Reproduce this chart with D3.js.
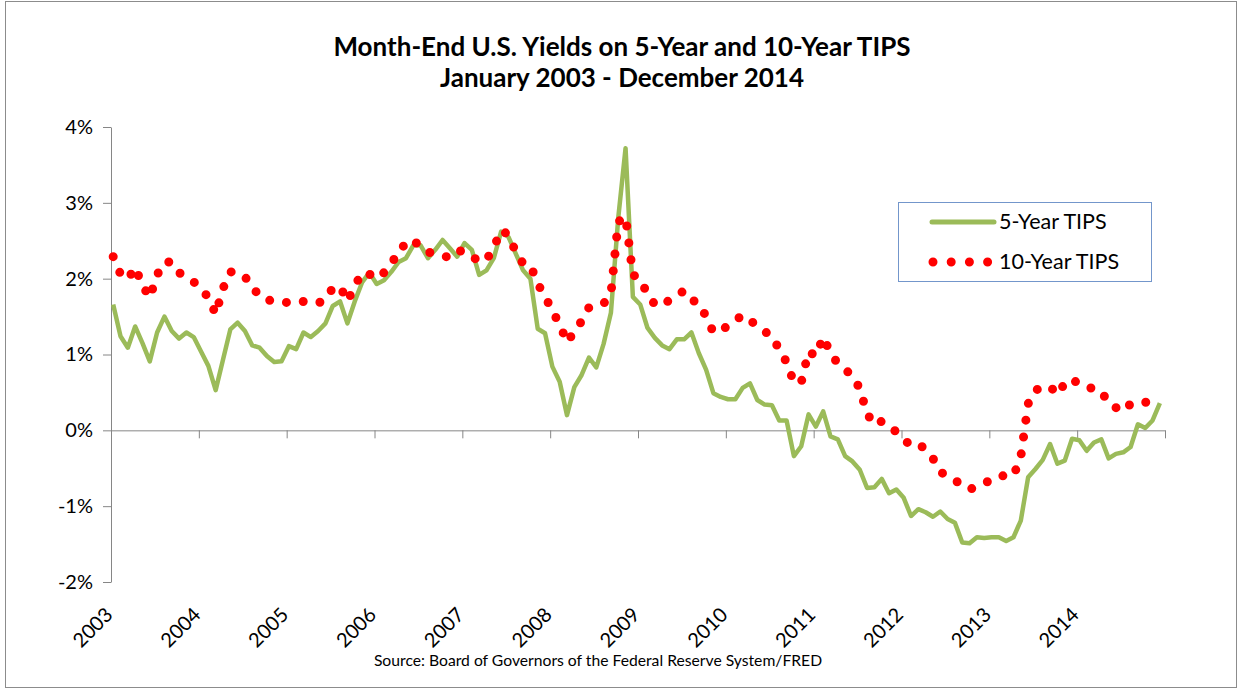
<!DOCTYPE html>
<html>
<head>
<meta charset="utf-8">
<script src="https://cdn.jsdelivr.net/npm/d3@7"></script>
<style>
  body { margin: 0; background: #fff; }
  svg { display: block; font-family: Lato, "Open Sans", sans-serif; }
</style>
</head>
<body>
<div id="chart"></div>
<script>
// month-end yields, Jan 2003 .. Dec 2014 (%)
const years = [2003, 2004, 2005, 2006, 2007, 2008, 2009, 2010, 2011, 2012, 2013, 2014];
const yTicks = [-2, -1, 0, 1, 2, 3, 4];

const fiveYear = [
  1.66, 1.24, 1.09, 1.37, 1.15, 0.91, 1.29, 1.50, 1.31, 1.21, 1.29, 1.23,
  1.04, 0.85, 0.53, 0.93, 1.33, 1.42, 1.31, 1.12, 1.09, 0.98, 0.90, 0.91,
  1.11, 1.07, 1.29, 1.23, 1.31, 1.41, 1.64, 1.70, 1.41, 1.70, 1.95, 2.08,
  1.93, 1.98, 2.09, 2.22, 2.27, 2.44, 2.44, 2.27, 2.38, 2.51, 2.40, 2.29,
  2.47, 2.38, 2.05, 2.11, 2.27, 2.62, 2.55, 2.33, 2.11, 2.00, 1.34, 1.28,
  0.84, 0.64, 0.20, 0.57, 0.73, 0.96, 0.83, 1.14, 1.55, 2.80, 3.72, 1.76,
  1.66, 1.35, 1.22, 1.12, 1.07, 1.20, 1.20, 1.29, 1.02, 0.80, 0.49, 0.44,
  0.41, 0.41, 0.56, 0.62, 0.40, 0.34, 0.33, 0.13, 0.13, -0.34, -0.21, 0.21,
  0.05, 0.25, -0.08, -0.12, -0.34, -0.41, -0.52, -0.76, -0.75, -0.64, -0.83, -0.78,
  -0.89, -1.13, -1.04, -1.08, -1.14, -1.07, -1.17, -1.22, -1.48, -1.49, -1.41, -1.42,
  -1.41, -1.41, -1.46, -1.41, -1.19, -0.62, -0.51, -0.39, -0.18, -0.44, -0.40, -0.11,
  -0.13, -0.27, -0.16, -0.12, -0.37, -0.31, -0.29, -0.22, 0.08, 0.03, 0.13, 0.36
];

const tenYear = [
  2.29, 2.06, 1.99, 2.15, 1.91, 1.75, 2.05, 2.22, 2.22, 2.08, 2.02, 1.96,
  1.85, 1.76, 1.53, 1.87, 2.09, 2.08, 2.03, 1.86, 1.80, 1.71, 1.72, 1.70,
  1.68, 1.68, 1.70, 1.70, 1.68, 1.72, 1.88, 1.90, 1.70, 1.90, 2.08, 2.06,
  2.00, 2.08, 2.18, 2.39, 2.45, 2.52, 2.40, 2.35, 2.33, 2.30, 2.28, 2.37,
  2.36, 2.30, 2.22, 2.25, 2.41, 2.64, 2.58, 2.35, 2.20, 2.18, 1.93, 1.77,
  1.57, 1.40, 1.16, 1.30, 1.44, 1.62, 1.65, 1.67, 1.80, 2.75, 2.82, 2.05,
  2.00, 1.79, 1.66, 1.64, 1.72, 1.78, 1.84, 1.72, 1.68, 1.50, 1.29, 1.33,
  1.37, 1.45, 1.52, 1.45, 1.38, 1.30, 1.25, 1.06, 0.90, 0.63, 0.63, 1.04,
  0.98, 1.23, 1.02, 0.88, 0.80, 0.72, 0.55, 0.22, 0.07, 0.12, 0.05, -0.02,
  -0.12, -0.20, -0.18, -0.25, -0.37, -0.55, -0.60, -0.66, -0.72, -0.78, -0.74, -0.70,
  -0.65, -0.60, -0.60, -0.60, -0.35, 0.35, 0.53, 0.57, 0.58, 0.47, 0.62, 0.68,
  0.60, 0.57, 0.55, 0.52, 0.35, 0.30, 0.25, 0.35, 0.37, 0.37, 0.38, 0.42
];

const colors = { five: "#9BBB59", ten: "#FF0000", axis: "#868686" };

const width = 1243, height = 690;
const svg = d3.select("#chart").append("svg")
  .attr("width", width).attr("height", height);

// outer frame
svg.append("rect")
  .attr("x", 5.5).attr("y", 1.5)
  .attr("width", 1231).attr("height", 686)
  .attr("fill", "none").attr("stroke", "#8c8c8c");

// scales: one unit per month, axis spans Jan 2003 .. Jan 2015
const x = d3.scaleLinear().domain([0, 144]).range([111, 1165]);
const y = d3.scaleLinear().domain([-2, 4]).range([582, 127]);

// title
svg.append("text")
  .attr("x", 622).attr("y", 56)
  .attr("text-anchor", "middle")
  .attr("font-size", 26).attr("font-weight", "bold")
  .text("Month-End U.S. Yields on 5-Year and 10-Year TIPS");
svg.append("text")
  .attr("x", 622).attr("y", 87)
  .attr("text-anchor", "middle")
  .attr("font-size", 26).attr("font-weight", "bold")
  .text("January 2003 - December 2014");

// y axis
const yAxis = svg.append("g")
  .attr("transform", `translate(${x(0)},0)`)
  .call(d3.axisLeft(y).tickValues(yTicks).tickSize(8).tickSizeOuter(0)
    .tickFormat(d => d + "%"));
yAxis.select(".domain").attr("stroke", colors.axis);
yAxis.selectAll(".tick line").attr("stroke", colors.axis);
yAxis.selectAll(".tick text")
  .attr("x", -18).attr("font-size", 20).attr("fill", "#000")
  .attr("font-family", "Lato, 'Open Sans', sans-serif");

// x axis at 0%
const xAxis = svg.append("g")
  .attr("transform", `translate(0,${y(0)})`)
  .call(d3.axisBottom(x).tickValues(d3.range(0, 145, 12)).tickSize(8)
    .tickSizeOuter(0).tickFormat(""));
xAxis.select(".domain").attr("stroke", colors.axis);
xAxis.selectAll(".tick line").attr("stroke", colors.axis);

// year labels at the bottom, rotated
svg.selectAll(".year")
  .data(years)
  .enter().append("text")
  .attr("class", "year")
  .attr("text-anchor", "end")
  .attr("font-size", 20)
  .attr("transform", (d, i) => `translate(${x(i * 12) + 3},616) rotate(-45)`)
  .text(d => d);

// series
const line5 = d3.line()
  .x((d, i) => x(i + 0.3))
  .y(d => y(d));

svg.append("path")
  .datum(fiveYear)
  .attr("fill", "none")
  .attr("stroke", colors.five)
  .attr("stroke-width", 4.5)
  .attr("stroke-linejoin", "round")
  .attr("d", line5);

svg.append("path")
  .datum(tenYear)
  .attr("fill", "none")
  .attr("stroke", colors.ten)
  .attr("stroke-width", 9)
  .attr("stroke-linecap", "round")
  .attr("stroke-dasharray", "0 17")
  .attr("d", line5);

// legend
const legend = svg.append("g");
legend.append("rect")
  .attr("x", 898.5).attr("y", 202.5)
  .attr("width", 253).attr("height", 79)
  .attr("fill", "#fff").attr("stroke", "#7396cb");
legend.append("line")
  .attr("x1", 932).attr("x2", 994).attr("y1", 222).attr("y2", 222)
  .attr("stroke", colors.five).attr("stroke-width", 5).attr("stroke-linecap", "round");
legend.append("line")
  .attr("x1", 933).attr("x2", 990).attr("y1", 262).attr("y2", 262)
  .attr("stroke", colors.ten).attr("stroke-width", 9)
  .attr("stroke-linecap", "round").attr("stroke-dasharray", "0 18.2");
legend.append("text")
  .attr("x", 999).attr("y", 229).attr("font-size", 21.5)
  .text("5-Year TIPS");
legend.append("text")
  .attr("x", 999).attr("y", 269).attr("font-size", 21.5)
  .text("10-Year TIPS");

// source note
svg.append("text")
  .attr("x", 598).attr("y", 666)
  .attr("text-anchor", "middle")
  .attr("font-size", 15.7)
  .text("Source: Board of Governors of the Federal Reserve System/FRED");
</script>
</body>
</html>
